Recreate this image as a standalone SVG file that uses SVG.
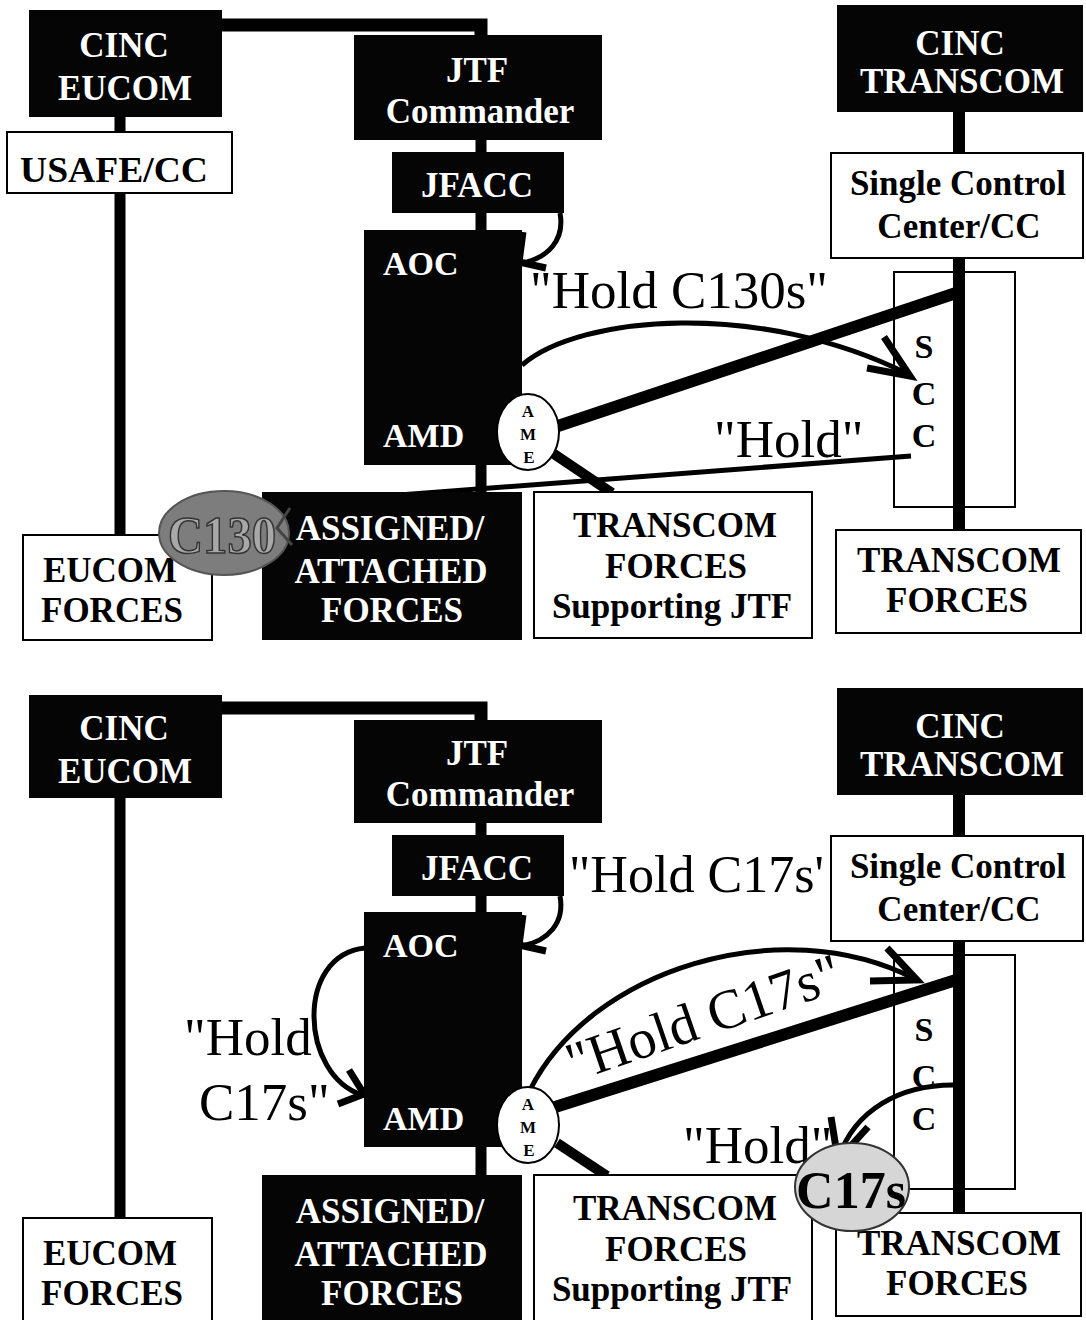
<svg xmlns="http://www.w3.org/2000/svg" width="1086" height="1320" viewBox="0 0 1086 1320">
<style>
.bk{fill:#050505}
.wb{fill:#fff;stroke:#000;stroke-width:2}
.tw{font-family:"Liberation Serif","Times New Roman",serif;font-weight:bold;font-size:35px;fill:#fff;text-anchor:middle}
.tb{font-family:"Liberation Serif","Times New Roman",serif;font-weight:bold;font-size:35px;fill:#000;text-anchor:middle}
.tl{font-family:"Liberation Serif","Times New Roman",serif;font-weight:bold;font-size:34px;fill:#fff;text-anchor:start}
.lbl{font-family:"Liberation Serif","Times New Roman",serif;font-size:53px;fill:#000}
.scc{font-family:"Liberation Serif","Times New Roman",serif;font-weight:bold;font-size:34px;fill:#000;text-anchor:middle}
.ame{font-family:"Liberation Serif","Times New Roman",serif;font-weight:bold;font-size:17px;fill:#000;text-anchor:middle}
.ln{stroke:#000;fill:none;stroke-linecap:butt}
.ah{stroke:#000;fill:none;stroke-width:7;stroke-linejoin:miter}
</style>
<rect width="1086" height="1320" fill="#fff"/>

<!-- ================= TOP PANEL ================= -->
<g id="t-scc"><rect class="wb" x="894" y="272" width="121" height="235"/>
<text class="scc" x="924" y="358">S</text><text class="scc" x="924" y="405">C</text><text class="scc" x="924" y="447">C</text></g>

<g id="t-connectors">
<path class="ln" stroke-width="13" d="M222,25 H481 V37"/>
<line class="ln" stroke-width="11" x1="120" y1="117" x2="120" y2="535"/>
<line class="ln" stroke-width="11" x1="481" y1="140" x2="481" y2="492"/>
<line class="ln" stroke-width="12" x1="959" y1="112" x2="959" y2="530"/>
<path class="ln" stroke-width="5" d="M560,213 C565,240 548,258 522,263"/>
<polyline class="ah" points="523,232 519,262 546,268"/>
<path class="ln" stroke-width="5" d="M522,365 C580,315 760,300 908,374"/>
<polyline class="ah" points="884,337 910,376 867,368"/>
<line class="ln" stroke-width="12" x1="552" y1="428" x2="956" y2="293"/>
<line class="ln" stroke-width="10" x1="551" y1="452" x2="612" y2="493"/>
<line class="ln" stroke-width="5" x1="911" y1="456" x2="295" y2="503"/>
<text class="lbl" x="530" y="308">"Hold C130s"</text>
<text class="lbl" x="714" y="457">"Hold"</text>
</g>

<g id="t-cinc-eucom"><rect class="bk" x="29" y="10" width="193" height="107"/>
<text class="tw" x="124" y="57">CINC</text><text class="tw" x="125" y="100">EUCOM</text></g>
<g id="t-jtf"><rect class="bk" x="354" y="35" width="248" height="105"/>
<text class="tw" x="477" y="82">JTF</text><text class="tw" x="480" y="123">Commander</text></g>
<g id="t-usafe"><rect class="wb" x="7" y="132" width="225" height="61"/>
<text class="tb" x="114" y="182" style="font-size:36px" textLength="188" lengthAdjust="spacingAndGlyphs">USAFE/CC</text></g>
<g id="t-jfacc"><rect class="bk" x="392" y="152" width="172" height="61"/>
<text class="tw" x="477" y="197">JFACC</text></g>
<g id="t-aoc"><rect class="bk" x="364" y="230" width="158" height="235"/>
<text class="tl" x="383" y="275">AOC</text>
<text class="tl" x="383" y="447">AMD</text></g>
<g id="t-assigned"><rect class="bk" x="262" y="492" width="260" height="148"/>
<text class="tw" x="390" y="540">ASSIGNED/</text><text class="tw" x="391" y="583">ATTACHED</text><text class="tw" x="392" y="622">FORCES</text></g>
<g id="t-eucom-forces"><rect class="wb" x="23" y="535" width="189" height="105"/>
<text class="tb" x="110" y="582">EUCOM</text><text class="tb" x="112" y="622">FORCES</text></g>
<g id="t-transcom-support"><rect class="wb" x="534" y="492" width="278" height="146"/>
<text class="tb" x="675" y="537">TRANSCOM</text><text class="tb" x="676" y="578">FORCES</text><text class="tb" x="672" y="618">Supporting JTF</text></g>
<g id="t-cinc-transcom"><rect class="bk" x="837" y="5" width="246" height="107"/>
<text class="tw" x="960" y="55">CINC</text><text class="tw" x="962" y="93">TRANSCOM</text></g>
<g id="t-single-control"><rect class="wb" x="831" y="153" width="252" height="105"/>
<text class="tb" x="958" y="195">Single Control</text><text class="tb" x="959" y="238">Center/CC</text></g>
<g id="t-transcom-forces"><rect class="wb" x="836" y="530" width="245" height="103"/>
<text class="tb" x="959" y="572">TRANSCOM</text><text class="tb" x="957" y="612">FORCES</text></g>
<g id="t-ame"><ellipse cx="528" cy="432" rx="31" ry="38" fill="#fff" stroke="#000" stroke-width="2"/>
<text class="ame" x="528" y="417">A</text><text class="ame" x="528" y="440">M</text><text class="ame" x="529" y="463">E</text></g>
<g id="t-c130"><ellipse cx="224" cy="533" rx="65" ry="42" fill="#7d7d7d" stroke="#555" stroke-width="2"/>
<text x="222" y="553" style="font-family:'Liberation Serif',serif;font-weight:bold;font-size:52px;fill:#a8a8a8;stroke:#333;stroke-width:1.5;text-anchor:middle" textLength="108" lengthAdjust="spacingAndGlyphs">C130</text>
<polyline points="290,508 277,528 292,545" fill="none" stroke="#444" stroke-width="3"/></g>

<!-- ================= BOTTOM PANEL ================= -->
<g id="b-scc"><rect class="wb" x="894" y="955" width="121" height="234"/>
<text class="scc" x="924" y="1041">S</text><text class="scc" x="924" y="1088">C</text><text class="scc" x="924" y="1130">C</text></g>

<g id="b-connectors">
<path class="ln" stroke-width="13" d="M222,708 H481 V720"/>
<line class="ln" stroke-width="11" x1="120" y1="798" x2="120" y2="1218"/>
<line class="ln" stroke-width="11" x1="481" y1="823" x2="481" y2="1175"/>
<line class="ln" stroke-width="12" x1="959" y1="795" x2="959" y2="1213"/>
<path class="ln" stroke-width="5" d="M560,896 C565,923 548,941 522,946"/>
<polyline class="ah" points="523,915 519,945 546,951"/>
<path class="ln" stroke-width="5" d="M365,948 C295,955 300,1075 362,1095"/>
<polyline class="ah" points="349,1070 364,1094 338,1104"/>
<path class="ln" stroke-width="5" d="M530,1090 C590,970 780,910 915,979"/>
<polyline class="ah" points="887,948 917,980 870,981"/>
<line class="ln" stroke-width="12" x1="552" y1="1108" x2="956" y2="980"/>
<line class="ln" stroke-width="10" x1="557" y1="1143" x2="607" y2="1176"/>
<path class="ln" stroke-width="5" d="M953,1085 C900,1085 855,1110 839,1157"/>
<polyline class="ah" points="831,1117 838,1160 868,1127"/>
<text class="lbl" x="569" y="892" textLength="255" lengthAdjust="spacingAndGlyphs">"Hold C17s'</text>
<text class="lbl" x="184" y="1055">"Hold</text>
<text class="lbl" x="199" y="1120">C17s"</text>
<text class="lbl" x="0" y="0" style="font-size:56px" transform="translate(574,1082) rotate(-19)">"Hold C17s"</text>
<text class="lbl" x="683" y="1163">"Hold"</text>
</g>

<g id="b-cinc-eucom"><rect class="bk" x="29" y="695" width="193" height="103"/>
<text class="tw" x="124" y="740">CINC</text><text class="tw" x="125" y="783">EUCOM</text></g>
<g id="b-jtf"><rect class="bk" x="354" y="720" width="248" height="103"/>
<text class="tw" x="477" y="765">JTF</text><text class="tw" x="480" y="806">Commander</text></g>
<g id="b-jfacc"><rect class="bk" x="392" y="835" width="172" height="61"/>
<text class="tw" x="477" y="880">JFACC</text></g>
<g id="b-aoc"><rect class="bk" x="364" y="912" width="158" height="235"/>
<text class="tl" x="383" y="957">AOC</text>
<text class="tl" x="383" y="1130">AMD</text></g>
<g id="b-assigned"><rect class="bk" x="262" y="1175" width="260" height="150"/>
<text class="tw" x="390" y="1223">ASSIGNED/</text><text class="tw" x="391" y="1266">ATTACHED</text><text class="tw" x="392" y="1305">FORCES</text></g>
<g id="b-eucom-forces"><rect class="wb" x="23" y="1218" width="189" height="107"/>
<text class="tb" x="110" y="1265">EUCOM</text><text class="tb" x="112" y="1305">FORCES</text></g>
<g id="b-transcom-support"><rect class="wb" x="534" y="1175" width="278" height="146"/>
<text class="tb" x="675" y="1220">TRANSCOM</text><text class="tb" x="676" y="1261">FORCES</text><text class="tb" x="672" y="1301">Supporting JTF</text></g>
<g id="b-cinc-transcom"><rect class="bk" x="837" y="688" width="246" height="107"/>
<text class="tw" x="960" y="738">CINC</text><text class="tw" x="962" y="776">TRANSCOM</text></g>
<g id="b-single-control"><rect class="wb" x="831" y="836" width="252" height="105"/>
<text class="tb" x="958" y="878">Single Control</text><text class="tb" x="959" y="921">Center/CC</text></g>
<g id="b-transcom-forces"><rect class="wb" x="836" y="1213" width="245" height="103"/>
<text class="tb" x="959" y="1255">TRANSCOM</text><text class="tb" x="957" y="1295">FORCES</text></g>
<g id="b-ame"><ellipse cx="528" cy="1125" rx="31" ry="38" fill="#fff" stroke="#000" stroke-width="2"/>
<text class="ame" x="528" y="1110">A</text><text class="ame" x="528" y="1133">M</text><text class="ame" x="529" y="1156">E</text></g>
<g id="b-c17s"><ellipse cx="852" cy="1187" rx="57" ry="44" fill="#d6d6d6" stroke="#333" stroke-width="2"/>
<text x="851" y="1208" style="font-family:'Liberation Serif',serif;font-weight:bold;font-size:52px;fill:#000;text-anchor:middle">C17s</text></g>
</svg>
